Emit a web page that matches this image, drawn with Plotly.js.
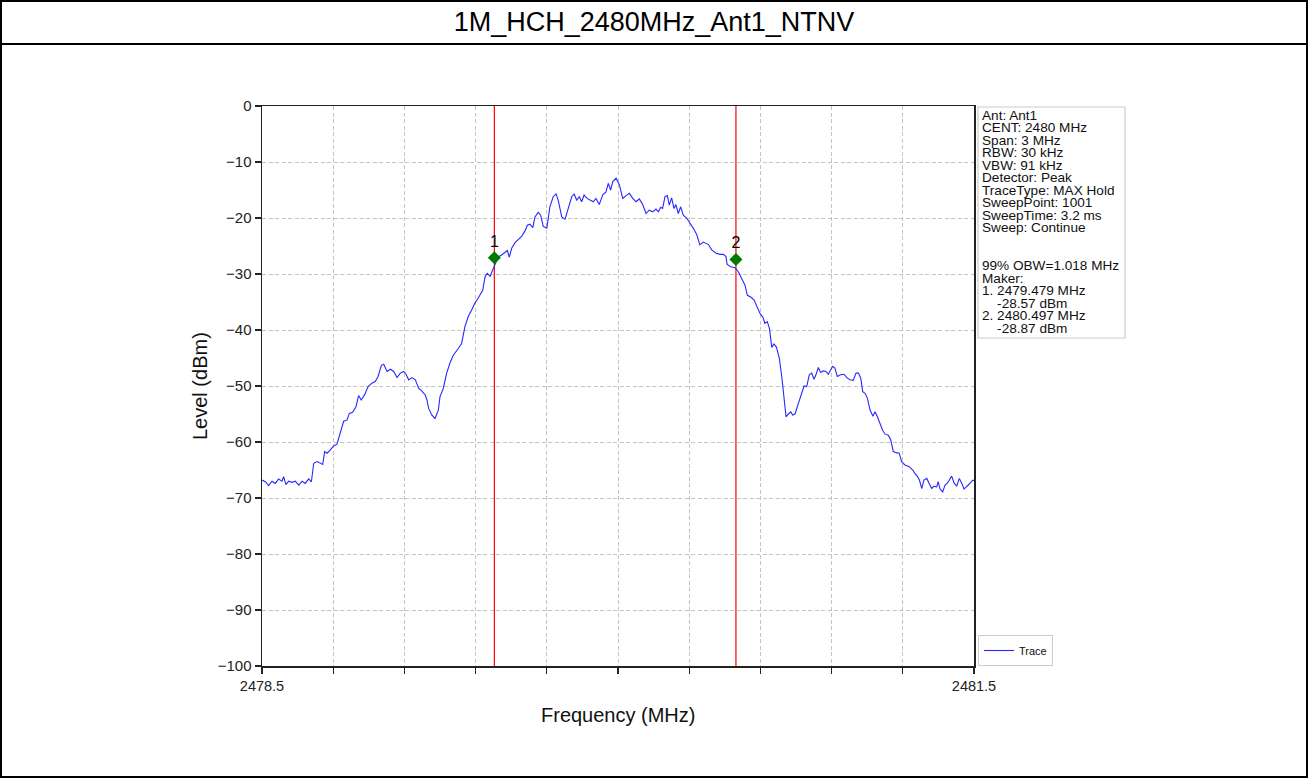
<!DOCTYPE html>
<html>
<head>
<meta charset="utf-8">
<script src="https://cdn.plot.ly/plotly-3.0.1.min.js"></script>
<style>
  html, body { margin: 0; padding: 0; background: #fff; }
  #chart { width: 1308px; height: 778px; }
</style>
</head>
<body>
<div id="chart"></div>
<script>
// ---- Data ----
const chartTitle = "1M_HCH_2480MHz_Ant1_NTNV";
const xAxisTitle = "Frequency (MHz)";
const yAxisTitle = "Level (dBm)";
const traceName = "Trace";

const freqMHz = [
  2478.500, 2478.514, 2478.528, 2478.542, 2478.556, 2478.570, 2478.584, 2478.591, 2478.601, 2478.612,
  2478.626, 2478.640, 2478.655, 2478.669, 2478.682, 2478.697, 2478.708, 2478.718, 2478.732, 2478.746,
  2478.756, 2478.764, 2478.774, 2478.788, 2478.802, 2478.816, 2478.830, 2478.844, 2478.858, 2478.868,
  2478.882, 2478.896, 2478.907, 2478.918, 2478.933, 2478.947, 2478.963, 2478.977, 2478.989, 2479.003,
  2479.013, 2479.027, 2479.041, 2479.055, 2479.069, 2479.083, 2479.097, 2479.107, 2479.118, 2479.132,
  2479.146, 2479.160, 2479.174, 2479.188, 2479.195, 2479.202, 2479.216, 2479.229, 2479.243, 2479.250,
  2479.264, 2479.278, 2479.292, 2479.306, 2479.327, 2479.341, 2479.355, 2479.369, 2479.384, 2479.397,
  2479.411, 2479.422, 2479.430, 2479.440, 2479.449, 2479.461, 2479.472, 2479.482, 2479.496, 2479.510,
  2479.524, 2479.534, 2479.542, 2479.552, 2479.566, 2479.580, 2479.594, 2479.608, 2479.618, 2479.629,
  2479.641, 2479.650, 2479.664, 2479.674, 2479.685, 2479.700, 2479.713, 2479.727, 2479.739, 2479.748,
  2479.763, 2479.777, 2479.791, 2479.805, 2479.815, 2479.826, 2479.837, 2479.847, 2479.857, 2479.870,
  2479.882, 2479.896, 2479.907, 2479.921, 2479.936, 2479.949, 2479.959, 2479.969, 2479.978, 2479.992,
  2480.006, 2480.020, 2480.034, 2480.048, 2480.062, 2480.076, 2480.090, 2480.104, 2480.118, 2480.132,
  2480.146, 2480.160, 2480.170, 2480.180, 2480.188, 2480.198, 2480.208, 2480.216, 2480.226, 2480.236,
  2480.244, 2480.254, 2480.264, 2480.275, 2480.289, 2480.303, 2480.317, 2480.332, 2480.345, 2480.359,
  2480.380, 2480.395, 2480.413, 2480.430, 2480.444, 2480.455, 2480.460, 2480.475, 2480.493, 2480.507,
  2480.521, 2480.535, 2480.545, 2480.559, 2480.573, 2480.586, 2480.598, 2480.610, 2480.619, 2480.629,
  2480.638, 2480.648, 2480.657, 2480.668, 2480.680, 2480.690, 2480.699, 2480.708, 2480.718, 2480.728,
  2480.736, 2480.746, 2480.760, 2480.774, 2480.784, 2480.795, 2480.806, 2480.816, 2480.826, 2480.834,
  2480.844, 2480.854, 2480.865, 2480.876, 2480.886, 2480.896, 2480.905, 2480.914, 2480.924, 2480.938,
  2480.952, 2480.966, 2480.978, 2480.991, 2481.003, 2481.013, 2481.023, 2481.031, 2481.041, 2481.051,
  2481.062, 2481.074, 2481.083, 2481.093, 2481.104, 2481.115, 2481.125, 2481.139, 2481.149, 2481.160,
  2481.172, 2481.185, 2481.195, 2481.209, 2481.227, 2481.242, 2481.251, 2481.261, 2481.270, 2481.280,
  2481.289, 2481.301, 2481.312, 2481.322, 2481.331, 2481.343, 2481.349, 2481.357, 2481.368, 2481.378,
  2481.387, 2481.396, 2481.406, 2481.416, 2481.427, 2481.438, 2481.448, 2481.458, 2481.469, 2481.480,
  2481.495, 2481.500
];

const levelDbm = [
  -66.8, -67.1, -67.8, -67.0, -67.4, -66.6, -67.0, -66.2, -67.6, -67.0,
  -67.2, -67.0, -67.7, -67.0, -67.4, -66.6, -67.1, -63.8, -63.5, -63.8,
  -64.0, -61.7, -62.0, -61.4, -60.7, -60.4, -58.2, -56.3, -56.1, -54.9,
  -54.7, -53.7, -51.7, -52.5, -51.5, -50.1, -49.5, -49.2, -48.3, -46.3,
  -46.1, -47.4, -47.0, -47.4, -48.5, -47.7, -47.4, -47.9, -48.9, -48.5,
  -48.9, -50.4, -50.9, -51.6, -52.5, -54.0, -55.2, -55.8, -54.3, -51.9,
  -50.4, -47.7, -45.9, -44.5, -43.3, -42.4, -39.4, -37.6, -36.4, -35.2,
  -34.3, -33.4, -32.9, -30.5, -29.9, -30.4, -29.3, -28.4, -26.9, -26.6,
  -26.2, -25.8, -27.0, -25.4, -24.4, -23.9, -23.3, -22.3, -21.3, -21.1,
  -21.7, -19.8, -19.0, -19.5, -21.5, -21.8, -18.0, -16.2, -15.7, -16.8,
  -19.8, -20.2, -18.3, -16.2, -15.7, -16.8, -16.2, -17.1, -15.9, -16.5,
  -16.8, -17.1, -16.5, -17.6, -15.8, -15.4, -13.8, -15.0, -13.5, -12.9,
  -14.1, -16.5, -16.0, -15.6, -16.5, -17.1, -16.6, -17.6, -19.2, -18.6,
  -18.9, -18.4, -18.9, -18.1, -18.3, -16.2, -16.0, -17.7, -16.4, -18.3,
  -17.6, -19.2, -18.0, -19.5, -20.0, -20.8, -21.8, -23.0, -24.8, -24.3,
  -24.7, -25.7, -26.3, -26.5, -26.5, -26.9, -28.3, -28.7, -28.9, -29.6,
  -30.8, -32.0, -33.8, -34.1, -34.6, -35.8, -37.0, -37.7, -38.8, -38.5,
  -39.7, -43.1, -42.5, -43.1, -45.1, -48.3, -52.5, -55.5, -55.0, -54.6,
  -55.2, -55.0, -53.1, -51.3, -50.0, -50.1, -48.0, -47.7, -48.8, -48.0,
  -46.7, -47.6, -47.3, -47.4, -47.9, -47.1, -46.5, -46.8, -48.3, -48.0,
  -47.9, -48.6, -48.9, -49.0, -47.7, -47.7, -48.6, -51.0, -51.3, -52.2,
  -54.3, -55.4, -54.6, -55.5, -56.7, -57.9, -58.6, -58.8, -59.6, -61.7,
  -61.9, -62.0, -63.5, -64.1, -64.4, -65.0, -65.6, -66.1, -66.8, -68.3,
  -66.8, -66.5, -67.5, -68.3, -67.9, -68.0, -67.1, -68.4, -68.9, -67.7,
  -67.4, -66.8, -66.1, -67.3, -67.9, -66.5, -67.3, -68.4, -68.0, -67.5,
  -66.8, -66.9
];

// Markers (red lines at marker frequency, green diamonds where drawn)
const markerLabels = ["1", "2"];
const markerFreq = [2479.479, 2480.497];
const markerLevel = [-27.1, -27.4];

// Axis ticks
const xTickVals = [2478.5, 2478.8, 2479.1, 2479.4, 2479.7, 2480.0, 2480.3, 2480.6, 2480.9, 2481.2, 2481.5];
const xTickText = ["2478.5", "", "", "", "", "", "", "", "", "", "2481.5"];
const yTickVals = [0, -10, -20, -30, -40, -50, -60, -70, -80, -90, -100];

// Info box text
const infoLines = [
  "Ant: Ant1",
  "CENT: 2480 MHz",
  "Span: 3 MHz",
  "RBW: 30 kHz",
  "VBW: 91 kHz",
  "Detector: Peak",
  "TraceType: MAX Hold",
  "SweepPoint: 1001",
  "SweepTime: 3.2 ms",
  "Sweep: Continue",
  "",
  "",
  "99% OBW=1.018 MHz",
  "Maker:",
  "1. 2479.479 MHz",
  "\u00a0\u00a0\u00a0\u00a0-28.57 dBm",
  "2. 2480.497 MHz",
  "\u00a0\u00a0\u00a0\u00a0-28.87 dBm"
];

// ---- Layout geometry (pixels) ----
const W = 1308, H = 778;
const M = { l: 262, r: 334, t: 106, b: 112 };
const PW = W - M.l - M.r, PH = H - M.t - M.b;
const px2x = p => (p - M.l) / PW;
const py2y = p => (H - M.b - p) / PH;

const FONT = "Liberation Sans, Arial, Helvetica, sans-serif";

const traces = [
  {
    x: freqMHz, y: levelDbm, type: "scatter", mode: "lines", name: traceName,
    line: { color: "rgb(40,40,255)", width: 1.1 }, hoverinfo: "x+y"
  },
  {
    x: markerFreq, y: markerLevel, type: "scatter", mode: "markers+text",
    text: markerLabels, textposition: "top center",
    textfont: { family: FONT, size: 16, color: "#000" },
    marker: { symbol: "diamond", size: 10, color: "#007a00" },
    showlegend: false, hoverinfo: "x+y"
  }
];

const shapes = [];
// outer frame
shapes.push({ type: "rect", xref: "paper", yref: "paper",
  x0: px2x(1), x1: px2x(W - 1), y0: py2y(H - 1), y1: py2y(1),
  line: { color: "#000", width: 2 }, layer: "above" });
// title separator
shapes.push({ type: "line", xref: "paper", yref: "paper",
  x0: px2x(1), x1: px2x(W - 1), y0: py2y(44), y1: py2y(44),
  line: { color: "#000", width: 2 } });
// marker lines
markerFreq.forEach(f => shapes.push({ type: "line", xref: "x", yref: "paper",
  x0: f, x1: f, y0: 0, y1: 1, line: { color: "#ff0000", width: 1.2 }, layer: "below" }));
// info box border
const boxTop = 107, boxBottom = 338, boxLeft = 978, boxRight = 1125;
shapes.push({ type: "rect", xref: "paper", yref: "paper",
  x0: px2x(boxLeft), x1: px2x(boxRight), y0: py2y(boxBottom), y1: py2y(boxTop),
  line: { color: "#cccccc", width: 1.2 }, fillcolor: "rgba(255,255,255,0.9)" });

const annotations = [];
const lineTop = 115, linePitch = 12.55;
infoLines.forEach((t, i) => {
  if (!t) return;
  annotations.push({ xref: "paper", yref: "paper", x: px2x(981), y: py2y(lineTop + i * linePitch),
    xanchor: "left", yanchor: "middle", text: t, showarrow: false, borderpad: 0,
    font: { family: FONT, size: 13.6, color: "#111" } });
});
// axis titles
annotations.push({ xref: "paper", yref: "paper", x: 0.5, y: py2y(715), xanchor: "center", yanchor: "middle",
  text: xAxisTitle, showarrow: false, font: { family: FONT, size: 20, color: "#111" } });
annotations.push({ xref: "paper", yref: "paper", x: px2x(200), y: 0.5, xanchor: "center", yanchor: "middle",
  text: yAxisTitle, textangle: -90, showarrow: false, font: { family: FONT, size: 20, color: "#111" } });

const gridDash = "4px,2.5px";
const layout = {
  width: W, height: H,
  margin: M,
  paper_bgcolor: "#fff", plot_bgcolor: "#fff",
  font: { family: FONT, color: "#222" },
  title: { text: chartTitle, font: { family: FONT, size: 27, color: "#000" },
    xref: "container", x: 0.5, xanchor: "center", yref: "container", y: 1 - 22 / H, yanchor: "middle" },
  xaxis: {
    range: [2478.5, 2481.5], tickmode: "array", tickvals: xTickVals, ticktext: xTickText,
    ticks: "outside", ticklen: 6, tickwidth: 1.2, tickcolor: "#222",
    showline: true, linecolor: "#222", linewidth: 1.5, mirror: true,
    showgrid: true, gridcolor: "#b5b5b5", gridwidth: 0.8, griddash: gridDash,
    zeroline: false, tickfont: { family: FONT, size: 14.5, color: "#222" },
    automargin: false
  },
  yaxis: {
    range: [-100, 0], tickmode: "array", tickvals: yTickVals,
    ticks: "outside", ticklen: 6, tickwidth: 1.2, tickcolor: "#222",
    showline: true, linecolor: "#222", linewidth: 1.5, mirror: true,
    showgrid: true, gridcolor: "#b5b5b5", gridwidth: 0.8, griddash: gridDash,
    zeroline: false, tickfont: { family: FONT, size: 15, color: "#222" },
    automargin: false
  },
  showlegend: true,
  legend: { x: px2x(978), y: py2y(666), xanchor: "left", yanchor: "bottom",
    bgcolor: "#fff", bordercolor: "#cccccc", borderwidth: 1,
    font: { family: FONT, size: 11, color: "#111" }, itemwidth: 30 },
  shapes: shapes,
  annotations: annotations
};

Plotly.newPlot("chart", traces, layout, { displayModeBar: false, staticPlot: true });
</script>
</body>
</html>
